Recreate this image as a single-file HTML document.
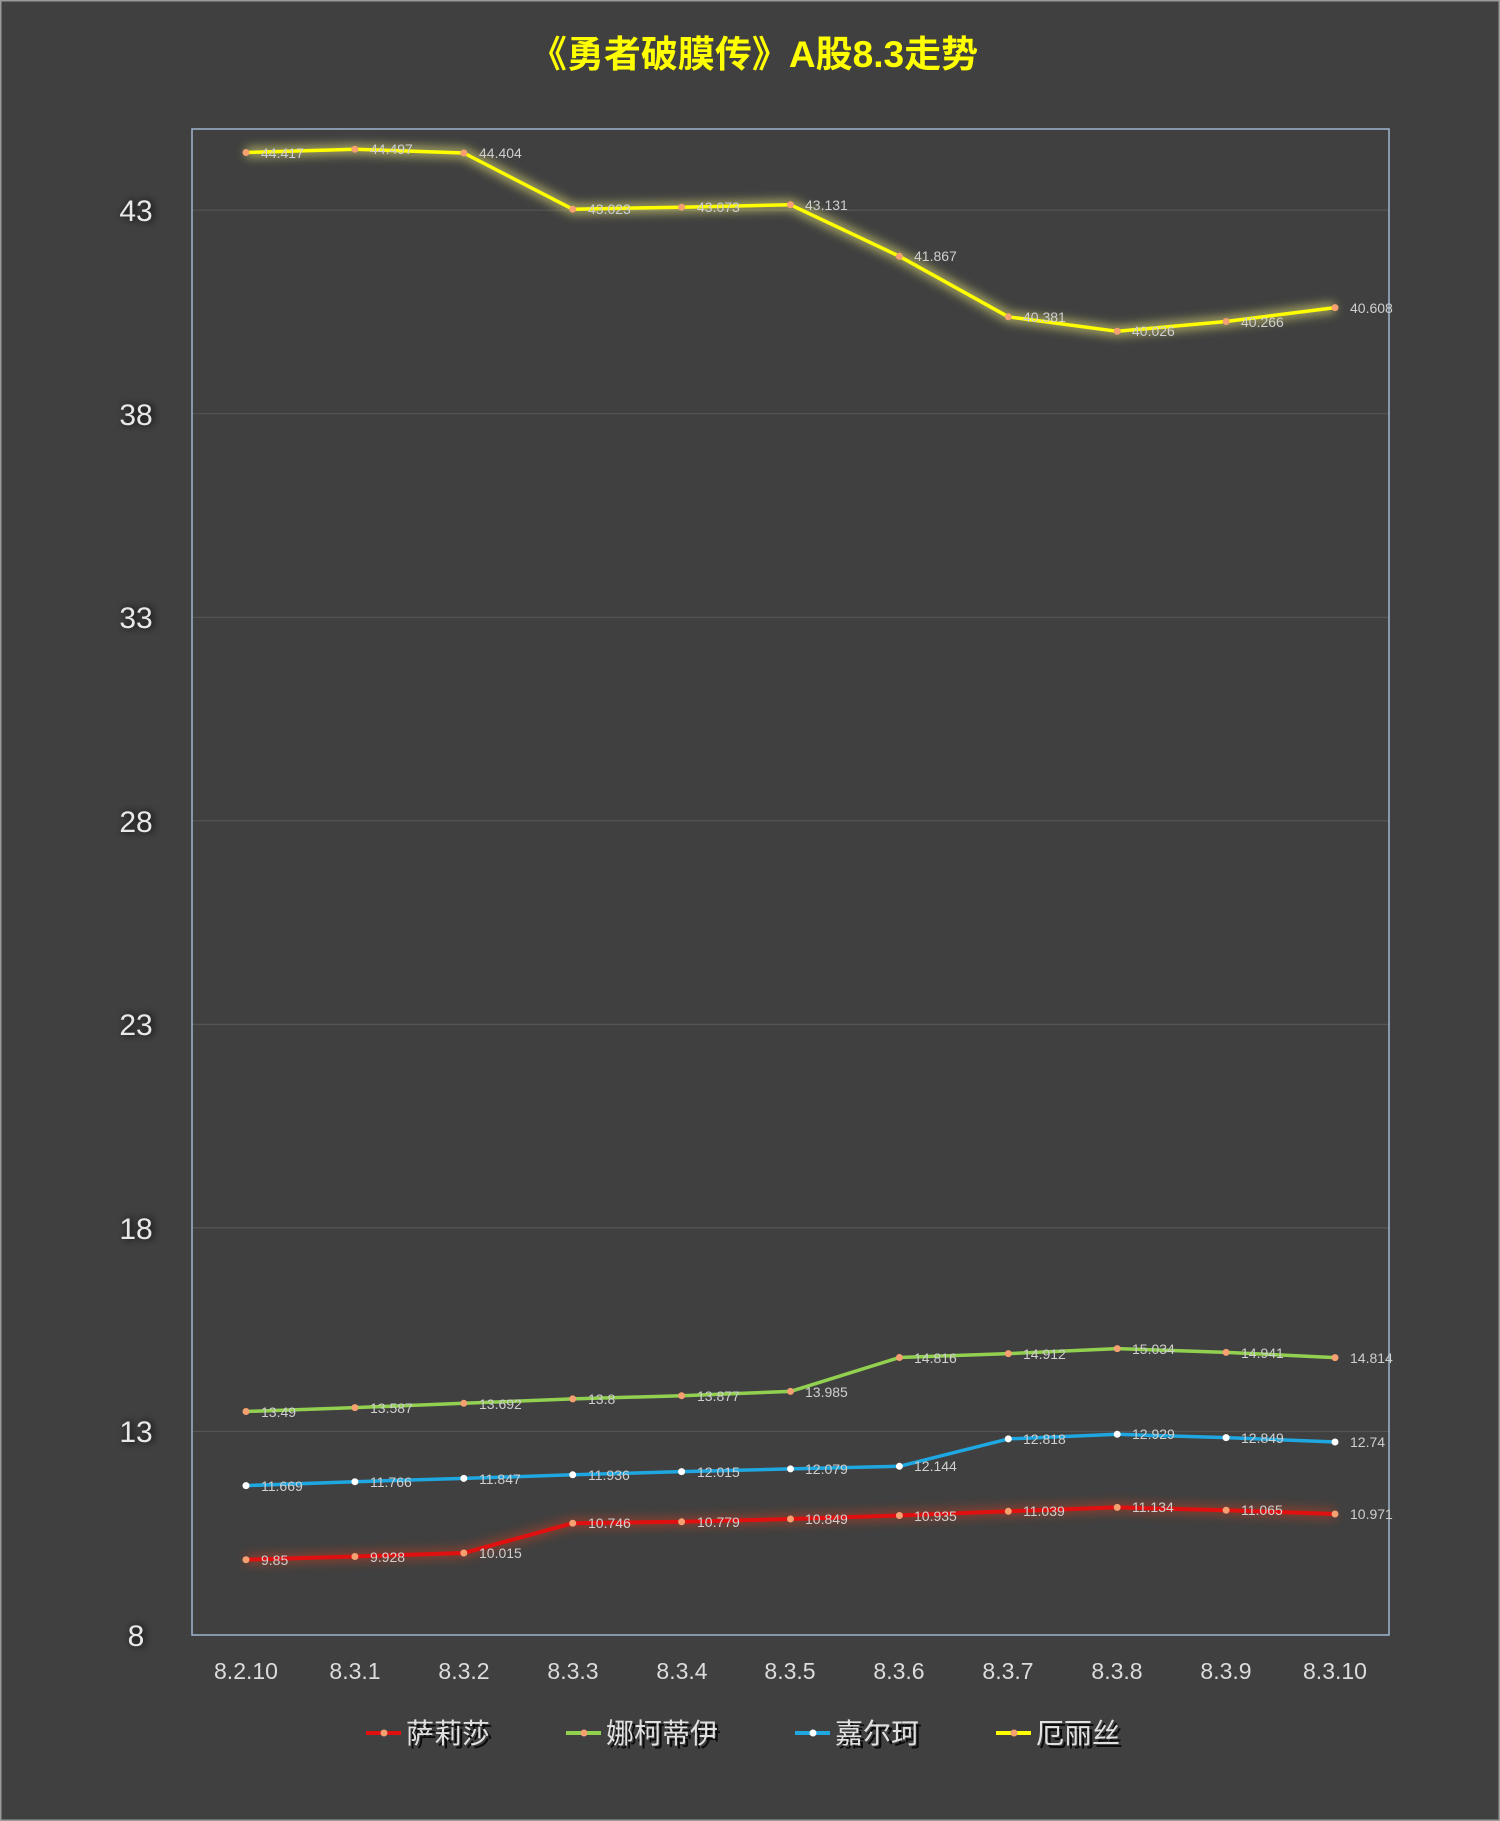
<!DOCTYPE html>
<html><head><meta charset="utf-8"><style>
html,body{margin:0;padding:0;background:#404040}
svg{display:block}
text{font-family:"Liberation Sans","Noto Sans CJK SC",sans-serif}
</style></head><body>
<svg width="1500" height="1821" viewBox="0 0 1500 1821" xmlns="http://www.w3.org/2000/svg">
<defs>
<filter id="glow" x="-10%" y="-10%" width="120%" height="120%"><feGaussianBlur stdDeviation="5"/></filter>
<filter id="sh" x="-50%" y="-50%" width="200%" height="200%"><feGaussianBlur stdDeviation="4"/></filter>
</defs>
<rect x="0" y="0" width="1500" height="1821" fill="#404040"/>
<rect x="0.5" y="0.5" width="1499" height="1820" fill="none" stroke="#9a9a9a" stroke-width="2"/>
<text x="754" y="67" text-anchor="middle" font-size="37" font-weight="bold" fill="#ffff00">《勇者破膜传》A股8.3走势</text>
<g stroke="#555" stroke-width="1.2">
<line x1="192" x2="1389" y1="1431.5" y2="1431.5"/><line x1="192" x2="1389" y1="1227.9" y2="1227.9"/>
<line x1="192" x2="1389" y1="1024.4" y2="1024.4"/><line x1="192" x2="1389" y1="820.8" y2="820.8"/>
<line x1="192" x2="1389" y1="617.3" y2="617.3"/><line x1="192" x2="1389" y1="413.7" y2="413.7"/>
<line x1="192" x2="1389" y1="210.2" y2="210.2"/>
</g>
<rect x="192" y="129" width="1197" height="1506" fill="none" stroke="#9fb6cf" stroke-width="1.5"/>
<g font-size="30" fill="#e8e8e8" text-anchor="middle">
<g fill="#000" filter="url(#sh)"><text x="138" y="1646">8</text><text x="138" y="1442">13</text><text x="138" y="1239">18</text><text x="138" y="1035">23</text><text x="138" y="832">28</text><text x="138" y="628">33</text><text x="138" y="425">38</text><text x="138" y="221">43</text></g>
<text x="136" y="1646">8</text><text x="136" y="1442">13</text><text x="136" y="1239">18</text><text x="136" y="1035">23</text><text x="136" y="832">28</text><text x="136" y="628">33</text><text x="136" y="425">38</text><text x="136" y="221">43</text>
</g>
<g font-size="23" fill="#dcdcdc" text-anchor="middle">
<text x="246" y="1679">8.2.10</text><text x="355" y="1679">8.3.1</text><text x="464" y="1679">8.3.2</text><text x="573" y="1679">8.3.3</text><text x="682" y="1679">8.3.4</text><text x="790" y="1679">8.3.5</text><text x="899" y="1679">8.3.6</text><text x="1008" y="1679">8.3.7</text><text x="1117" y="1679">8.3.8</text><text x="1226" y="1679">8.3.9</text><text x="1335" y="1679">8.3.10</text>
</g>
<g fill="none" stroke-width="10" opacity="0.55" filter="url(#glow)">
<polyline stroke="#ffff80" points="246,152.5 354.9,149.2 463.8,153 572.7,209.2 681.6,207.2 790.5,204.8 899.4,256.3 1008.3,316.8 1117.2,331.3 1226.1,321.5 1335,307.6"/>
<polyline stroke="#c04020" points="246,1559.7 354.9,1556.5 463.8,1553 572.7,1523.2 681.6,1521.8 790.5,1519 899.4,1515.5 1008.3,1511.3 1117.2,1507.4 1226.1,1510.2 1335,1514"/>
</g>
<g fill="none" stroke-width="3.5" stroke-linejoin="round">
<polyline stroke="#ffff00" points="246,152.5 354.9,149.2 463.8,153 572.7,209.2 681.6,207.2 790.5,204.8 899.4,256.3 1008.3,316.8 1117.2,331.3 1226.1,321.5 1335,307.6"/>
<polyline stroke="#92d050" points="246,1411.5 354.9,1407.6 463.8,1403.3 572.7,1398.9 681.6,1395.7 790.5,1391.4 899.4,1357.5 1008.3,1353.6 1117.2,1348.6 1226.1,1352.4 1335,1357.6"/>
<polyline stroke="#1ea7e0" points="246,1485.6 354.9,1481.7 463.8,1478.4 572.7,1474.8 681.6,1471.6 790.5,1468.9 899.4,1466.3 1008.3,1438.9 1117.2,1434.3 1226.1,1437.6 1335,1442"/>
<polyline stroke="#e01010" stroke-width="4" points="246,1559.7 354.9,1556.5 463.8,1553 572.7,1523.2 681.6,1521.8 790.5,1519 899.4,1515.5 1008.3,1511.3 1117.2,1507.4 1226.1,1510.2 1335,1514"/>
</g>
<g fill="#f4a070">
<circle cx="246" cy="152.5" r="3.5"/><circle cx="354.9" cy="149.2" r="3.5"/><circle cx="463.8" cy="153" r="3.5"/><circle cx="572.7" cy="209.2" r="3.5"/><circle cx="681.6" cy="207.2" r="3.5"/><circle cx="790.5" cy="204.8" r="3.5"/><circle cx="899.4" cy="256.3" r="3.5"/><circle cx="1008.3" cy="316.8" r="3.5"/><circle cx="1117.2" cy="331.3" r="3.5"/><circle cx="1226.1" cy="321.5" r="3.5"/><circle cx="1335" cy="307.6" r="3.5"/>
<circle cx="246" cy="1411.5" r="3.5"/><circle cx="354.9" cy="1407.6" r="3.5"/><circle cx="463.8" cy="1403.3" r="3.5"/><circle cx="572.7" cy="1398.9" r="3.5"/><circle cx="681.6" cy="1395.7" r="3.5"/><circle cx="790.5" cy="1391.4" r="3.5"/><circle cx="899.4" cy="1357.5" r="3.5"/><circle cx="1008.3" cy="1353.6" r="3.5"/><circle cx="1117.2" cy="1348.6" r="3.5"/><circle cx="1226.1" cy="1352.4" r="3.5"/><circle cx="1335" cy="1357.6" r="3.5"/>
<circle cx="246" cy="1559.7" r="3.5"/><circle cx="354.9" cy="1556.5" r="3.5"/><circle cx="463.8" cy="1553" r="3.5"/><circle cx="572.7" cy="1523.2" r="3.5"/><circle cx="681.6" cy="1521.8" r="3.5"/><circle cx="790.5" cy="1519" r="3.5"/><circle cx="899.4" cy="1515.5" r="3.5"/><circle cx="1008.3" cy="1511.3" r="3.5"/><circle cx="1117.2" cy="1507.4" r="3.5"/><circle cx="1226.1" cy="1510.2" r="3.5"/><circle cx="1335" cy="1514" r="3.5"/>
</g>
<g fill="#ffffff">
<circle cx="246" cy="1485.6" r="3.5"/><circle cx="354.9" cy="1481.7" r="3.5"/><circle cx="463.8" cy="1478.4" r="3.5"/><circle cx="572.7" cy="1474.8" r="3.5"/><circle cx="681.6" cy="1471.6" r="3.5"/><circle cx="790.5" cy="1468.9" r="3.5"/><circle cx="899.4" cy="1466.3" r="3.5"/><circle cx="1008.3" cy="1438.9" r="3.5"/><circle cx="1117.2" cy="1434.3" r="3.5"/><circle cx="1226.1" cy="1437.6" r="3.5"/><circle cx="1335" cy="1442" r="3.5"/>
</g>
<g font-size="14" fill="#cfcfcf">
<text x="261" y="158">44.417</text><text x="370" y="154">44.497</text><text x="479" y="158">44.404</text><text x="588" y="214">43.023</text><text x="697" y="212">43.073</text><text x="805" y="210">43.131</text><text x="914" y="261">41.867</text><text x="1023" y="322">40.381</text><text x="1132" y="336">40.026</text><text x="1241" y="327">40.266</text><text x="1350" y="313">40.608</text>
<text x="261" y="1417">13.49</text><text x="370" y="1413">13.587</text><text x="479" y="1409">13.692</text><text x="588" y="1404">13.8</text><text x="697" y="1401">13.877</text><text x="805" y="1397">13.985</text><text x="914" y="1363">14.816</text><text x="1023" y="1359">14.912</text><text x="1132" y="1354">15.034</text><text x="1241" y="1358">14.941</text><text x="1350" y="1363">14.814</text>
<text x="261" y="1491">11.669</text><text x="370" y="1487">11.766</text><text x="479" y="1484">11.847</text><text x="588" y="1480">11.936</text><text x="697" y="1477">12.015</text><text x="805" y="1474">12.079</text><text x="914" y="1471">12.144</text><text x="1023" y="1444">12.818</text><text x="1132" y="1439">12.929</text><text x="1241" y="1443">12.849</text><text x="1350" y="1447">12.74</text>
<text x="261" y="1565">9.85</text><text x="370" y="1562">9.928</text><text x="479" y="1558">10.015</text><text x="588" y="1528">10.746</text><text x="697" y="1527">10.779</text><text x="805" y="1524">10.849</text><text x="914" y="1521">10.935</text><text x="1023" y="1516">11.039</text><text x="1132" y="1512">11.134</text><text x="1241" y="1515">11.065</text><text x="1350" y="1519">10.971</text>
</g>
<g stroke-width="4">
<line x1="366" x2="401" y1="1733" y2="1733" stroke="#e01010"/><line x1="566" x2="601" y1="1733" y2="1733" stroke="#92d050"/>
<line x1="795" x2="830" y1="1733" y2="1733" stroke="#1ea7e0"/><line x1="996" x2="1031" y1="1733" y2="1733" stroke="#ffff00"/>
</g>
<circle cx="384" cy="1733" r="3.5" fill="#f4a070"/><circle cx="584" cy="1733" r="3.5" fill="#f4a070"/><circle cx="813" cy="1733" r="3.5" fill="#fff"/><circle cx="1014" cy="1733" r="3.5" fill="#f4a070"/>
<g font-size="28">
<g fill="#000" opacity="0.8"><text x="409" y="1746">萨莉莎</text><text x="609" y="1746">娜柯蒂伊</text><text x="838" y="1746">嘉尔珂</text><text x="1039" y="1746">厄丽丝</text></g>
<g fill="#e0e0e0"><text x="406" y="1743">萨莉莎</text><text x="606" y="1743">娜柯蒂伊</text><text x="835" y="1743">嘉尔珂</text><text x="1036" y="1743">厄丽丝</text></g>
</g>
</svg>
</body></html>
